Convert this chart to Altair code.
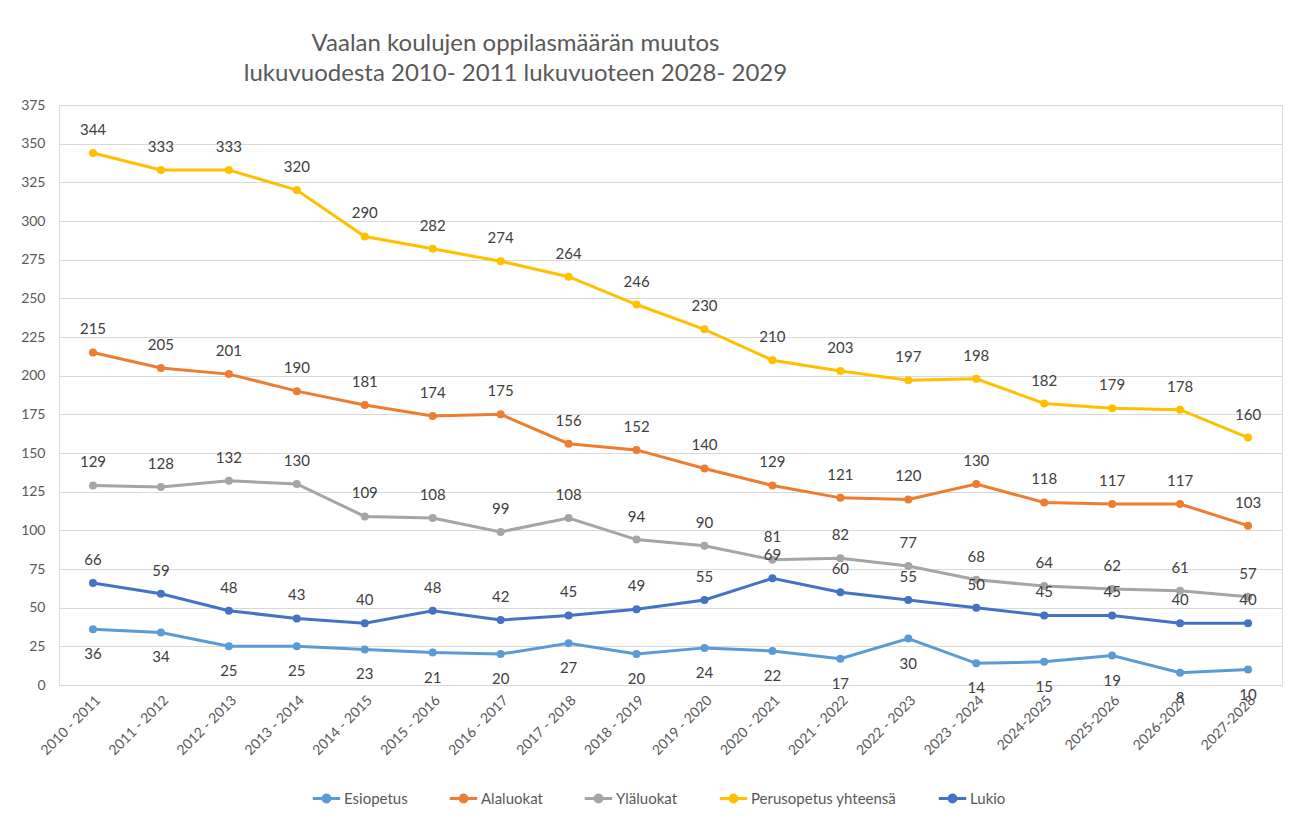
import altair as alt
import pandas as pd

years = ["2010 - 2011", "2011 - 2012", "2012 - 2013", "2013 - 2014", "2014 - 2015",
         "2015 - 2016", "2016 - 2017", "2017 - 2018", "2018 - 2019", "2019 - 2020",
         "2020 - 2021", "2021 - 2022", "2022 - 2023", "2023 - 2024", "2024-2025",
         "2025-2026", "2026-2027", "2027-2028"]

esiopetus = [36, 34, 25, 25, 23, 21, 20, 27, 20, 24, 22, 17, 30, 14, 15, 19, 8, 10]
alaluokat = [215, 205, 201, 190, 181, 174, 175, 156, 152, 140, 129, 121, 120, 130, 118, 117, 117, 103]
ylaluokat = [129, 128, 132, 130, 109, 108, 99, 108, 94, 90, 81, 82, 77, 68, 64, 62, 61, 57]
perusopetus = [344, 333, 333, 320, 290, 282, 274, 264, 246, 230, 210, 203, 197, 198, 182, 179, 178, 160]
lukio = [66, 59, 48, 43, 40, 48, 42, 45, 49, 55, 69, 60, 55, 50, 45, 45, 40, 40]

series_names = ["Esiopetus", "Alaluokat", "Yläluokat", "Perusopetus yhteensä", "Lukio"]
series_values = [esiopetus, alaluokat, ylaluokat, perusopetus, lukio]
colors = ["#5B9BD5", "#ED7D31", "#A5A5A5", "#FFC000", "#4472C4"]

rows = []
for name, vals in zip(series_names, series_values):
    for y, v in zip(years, vals):
        rows.append({"Vuosi": y, "Sarja": name, "Arvo": v})
df = pd.DataFrame(rows)

FONT = "Lato"
TXT = "#595959"

x_enc = alt.X("Vuosi:N", sort=years, title=None,
              scale=alt.Scale(paddingInner=1, paddingOuter=0.5),
              axis=alt.Axis(labelAngle=-45, labelAlign="right", labelBaseline="top",
                            labelFontSize=14, labelColor=TXT, labelFont=FONT,
                            domainColor="#D9D9D9", ticks=False, grid=False,
                            labelPadding=8, labelOverlap=False))
y_enc = alt.Y("Arvo:Q", title=None,
              scale=alt.Scale(domain=[0, 375]),
              axis=alt.Axis(values=list(range(0, 376, 25)), labelFontSize=14,
                            labelColor=TXT, labelFont=FONT, domain=False, ticks=False,
                            gridColor="#D9D9D9", labelPadding=14))
color_enc = alt.Color("Sarja:N",
                      scale=alt.Scale(domain=series_names, range=colors),
                      legend=alt.Legend(title=None, orient="none", direction="horizontal",
                                        legendX=252, legendY=678,
                                        symbolType="M-1,0H1M-0.25,0a0.25,0.25 0 1,0 0.5,0a0.25,0.25 0 1,0 -0.5,0",
                                        symbolSize=750, symbolStrokeWidth=3,
                                        labelFont=FONT, labelFontSize=15, labelColor=TXT,
                                        columnPadding=35, labelOffset=2))

base = alt.Chart(df).encode(x=x_enc, y=y_enc, color=color_enc)

lines = base.mark_line(strokeWidth=3)
points = base.mark_circle(size=64, opacity=1)

labels_above = base.transform_filter(alt.datum.Sarja != "Esiopetus").mark_text(
    dy=-23, fontSize=15, font=FONT, color="#404040").encode(
    text="Arvo:Q", color=alt.value("#404040"))
labels_below = base.transform_filter(alt.datum.Sarja == "Esiopetus").mark_text(
    dy=25, fontSize=15, font=FONT, color="#404040").encode(
    text="Arvo:Q", color=alt.value("#404040"))

chart = alt.layer(lines, points, labels_above, labels_below).properties(
    width=1223, height=580,
    title=alt.TitleParams(
        text=["Vaalan koulujen oppilasmäärän muutos",
              "lukuvuodesta 2010- 2011 lukuvuoteen 2028- 2029"],
        font=FONT, fontSize=24, fontWeight="normal", color=TXT,
        anchor="middle", dx=-155, offset=12, lineHeight=30),
    autosize=alt.AutoSizeParams(type="none"),
    padding={"left": 51, "top": 97, "right": 5, "bottom": 130},
).configure_view(stroke=None).configure(background="white")

chart.save("out.html", embed_options={"renderer": "svg", "actions": False})
